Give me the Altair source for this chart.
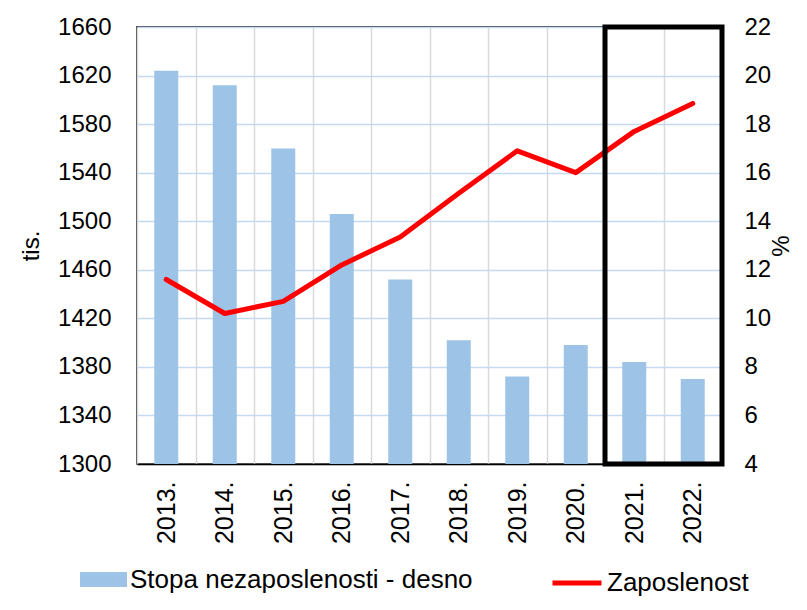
import altair as alt
import pandas as pd

years = ["2013.", "2014.", "2015.", "2016.", "2017.", "2018.", "2019.", "2020.", "2021.", "2022."]
unemployment = [20.2, 19.6, 17.0, 14.3, 11.6, 9.1, 7.6, 8.9, 8.2, 7.5]
employment = [1452, 1424, 1434, 1464, 1487, 1523, 1558, 1540, 1574, 1597]
left_ticks = [1300, 1340, 1380, 1420, 1460, 1500, 1540, 1580, 1620, 1660]
right_ticks = [4, 6, 8, 10, 12, 14, 16, 18, 20, 22]
bar_name = "Stopa nezaposlenosti - desno"
line_name = "Zaposlenost"
box_years = ["2021.", "2022."]

df = pd.DataFrame({"year": years, "unemp": unemployment, "emp": employment,
                   "bar_s": bar_name, "line_s": line_name})

FONT = "Liberation Sans"
W, H = 585, 437

xscale = alt.Scale(domain=years, paddingInner=0, paddingOuter=0)

bars = alt.Chart(df).mark_bar(color="#9DC3E6", clip=True, width=alt.RelativeBandSize(0.41)).encode(
    x=alt.X("year:N", scale=xscale, sort=years,
            axis=alt.Axis(title=None, labelAngle=270, labelAlign="right", labelBaseline="middle",
                          labelFontSize=25, labelPadding=17, ticks=False, grid=True,
                          gridColor="#D9D9D9", gridWidth=1.5, tickBand="extent",
                          domainColor="#000000", domainWidth=1.5)),
    y=alt.Y("unemp:Q", scale=alt.Scale(domain=[4, 22], zero=False, nice=False),
            axis=alt.Axis(orient="right", values=right_ticks, title="%", titleAngle=270,
                          titleFontSize=24, titleFontWeight="normal", titlePadding=23,
                          labelFontSize=24, labelPadding=22, ticks=False, domain=False, grid=False,
                          labelAlign="left")),
    fill=alt.Fill("bar_s:N", scale=alt.Scale(domain=[bar_name], range=["#9DC3E6"]),
                  legend=alt.Legend(title=None, orient="none", legendX=-57, legendY=529,
                                    symbolType="M-1,-0.32H1V0.32H-1Z", symbolSize=2209,
                                    symbolStrokeWidth=0, labelFontSize=26, labelOffset=3,
                                    padding=0, labelLimit=600)),
)

line = alt.Chart(df).mark_line(color="#FF0000", strokeWidth=5, strokeJoin="round", strokeCap="round").encode(
    x=alt.X("year:N", scale=xscale, sort=years),
    y=alt.Y("emp:Q", scale=alt.Scale(domain=[1300, 1660], zero=False, nice=False),
            axis=alt.Axis(orient="left", values=left_ticks, format="d", title="tis.", titleAngle=270,
                          titleFontSize=24, titleFontWeight="normal", titlePadding=14,
                          labelFontSize=24, labelPadding=26, ticks=False, domain=False,
                          grid=True, gridColor="#C5D9F1", gridWidth=1.5)),
    stroke=alt.Stroke("line_s:N", scale=alt.Scale(domain=[line_name], range=["#FF0000"]),
                      legend=alt.Legend(title=None, orient="none", legendX=413, legendY=529,
                                        symbolType="stroke", symbolSize=2401, symbolStrokeWidth=5,
                                        labelFontSize=26, labelOffset=3, padding=0)),
)

box = alt.Chart(df).mark_rect(fillOpacity=0, stroke="#000000", strokeWidth=5).encode(
    x=alt.XDatum(box_years[0], type="nominal", bandPosition=0),
    x2=alt.X2Datum(box_years[1], bandPosition=1),
    y=alt.YDatum(1300, type="quantitative",
                 scale=alt.Scale(domain=[1300, 1660], zero=False, nice=False), axis=None),
    y2=alt.Y2Datum(1660),
).transform_filter(alt.datum.year == years[0])

chart = alt.layer(bars, line, box).resolve_scale(y="independent").properties(
    width=W, height=H,
    autosize=alt.AutoSizeParams(type="none"),
    padding={"left": 129, "top": 19, "right": 77, "bottom": 134},
).configure(font=FONT).configure_view(stroke="#000000", strokeWidth=1.5).configure_axis(
    labelColor="#000000", titleColor="#000000", labelFont=FONT, titleFont=FONT
).configure_legend(labelColor="#000000", labelFont=FONT)

chart.save("out.html", embed_options={"renderer": "svg", "actions": False})
